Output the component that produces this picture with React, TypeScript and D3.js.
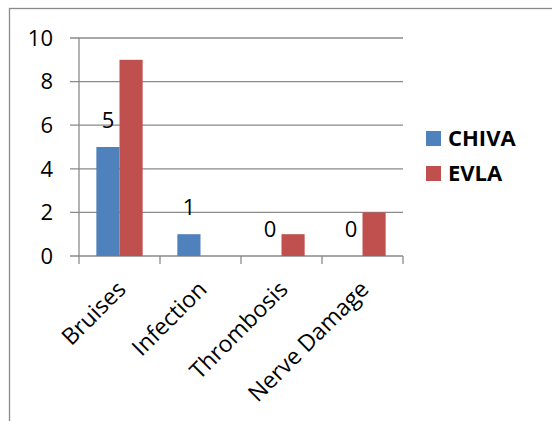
import React from "react";
import * as d3 from "d3";

const categories = ["Bruises", "Infection", "Thrombosis", "Nerve Damage"];
const seriesNames = ["CHIVA", "EVLA"];
const chivaValues = [5, 1, 0, 0];
const evlaValues = [9, 0, 1, 2];
const chivaLabels = ["5", "1", "0", "0"];
const yTicks = [0, 2, 4, 6, 8, 10];
const seriesColors = ["#4F81BD", "#C0504D"];

const W = 552;
const H = 421;
const plot = { left: 79, right: 403, top: 38, bottom: 256 };
const FONT = "'Open Sans', Lato, sans-serif";
const GRID = "#8a8a8a";
const FS = 22;

export default function App() {
  const y = d3.scaleLinear().domain([0, 10]).range([plot.bottom, plot.top]);
  const x = d3
    .scaleBand<string>()
    .domain(categories)
    .range([plot.left, plot.right])
    .paddingInner(0)
    .paddingOuter(0);
  const bw = x.bandwidth();
  // two bars per group with a 150% gap between groups
  const barW = bw / (2 + 1.5);
  const inner = d3
    .scaleBand<string>()
    .domain(seriesNames)
    .range([bw * 0.75 / 3.5, bw - bw * 0.75 / 3.5]);

  const series = [chivaValues, evlaValues];

  return (
    <svg
      width={W}
      height={H}
      style={{ position: "absolute", left: 0, top: 0, background: "#fff" }}
      fontFamily={FONT}
    >
      <rect x={9.5} y={8.5} width={W + 20} height={H + 20} fill="#fff" stroke={GRID} strokeWidth={1.3} />

      {/* horizontal gridlines and y ticks */}
      {yTicks.map((t) => (
        <g key={t}>
          <line x1={70} x2={plot.right} y1={y(t)} y2={y(t)} stroke={GRID} strokeWidth={1.3} />
          <text x={53} y={y(t)} dy="0.35em" textAnchor="end" fontSize={FS} fill="#000">
            {t}
          </text>
        </g>
      ))}

      {/* y axis */}
      <line x1={plot.left} x2={plot.left} y1={plot.top} y2={plot.bottom + 8} stroke={GRID} strokeWidth={1.3} />

      {/* category tick marks */}
      {categories.map((c) => (
        <line
          key={c}
          x1={(x(c) ?? 0) + bw}
          x2={(x(c) ?? 0) + bw}
          y1={plot.bottom}
          y2={plot.bottom + 8}
          stroke={GRID}
          strokeWidth={1.3}
        />
      ))}

      {/* bars */}
      {series.map((vals, si) =>
        categories.map((c, ci) => {
          const v = vals[ci];
          if (v <= 0) return null;
          const bx = (x(c) ?? 0) + (inner(seriesNames[si]) ?? 0);
          return (
            <rect
              key={`${si}-${c}`}
              x={bx}
              y={y(v)}
              width={barW}
              height={y(0) - y(v)}
              fill={seriesColors[si]}
            />
          );
        })
      )}

      {/* value labels for CHIVA */}
      {categories.map((c, ci) => {
        const cx = (x(c) ?? 0) + (inner("CHIVA") ?? 0) + barW / 2;
        return (
          <text key={c} x={cx} y={y(chivaValues[ci]) - 19} textAnchor="middle" fontSize={FS} fill="#000">
            {chivaLabels[ci]}
          </text>
        );
      })}

      {/* category labels */}
      {categories.map((c) => {
        const cx = (x(c) ?? 0) + bw / 2;
        return (
          <text
            key={c}
            transform={`translate(${cx + 2},${plot.bottom + 29}) rotate(-45)`}
            textAnchor="end"
            dy="0.35em"
            fontSize={23}
            fill="#000"
          >
            {c}
          </text>
        );
      })}

      {/* legend */}
      {seriesNames.map((s, i) => (
        <g key={s} transform={`translate(426,${131 + i * 35})`}>
          <rect x={0} y={0} width={15} height={15} fill={seriesColors[i]} />
          <text x={22} y={7.5} dy="0.35em" fontSize={22} fontWeight="bold" fill="#000">
            {s}
          </text>
        </g>
      ))}
    </svg>
  );
}
